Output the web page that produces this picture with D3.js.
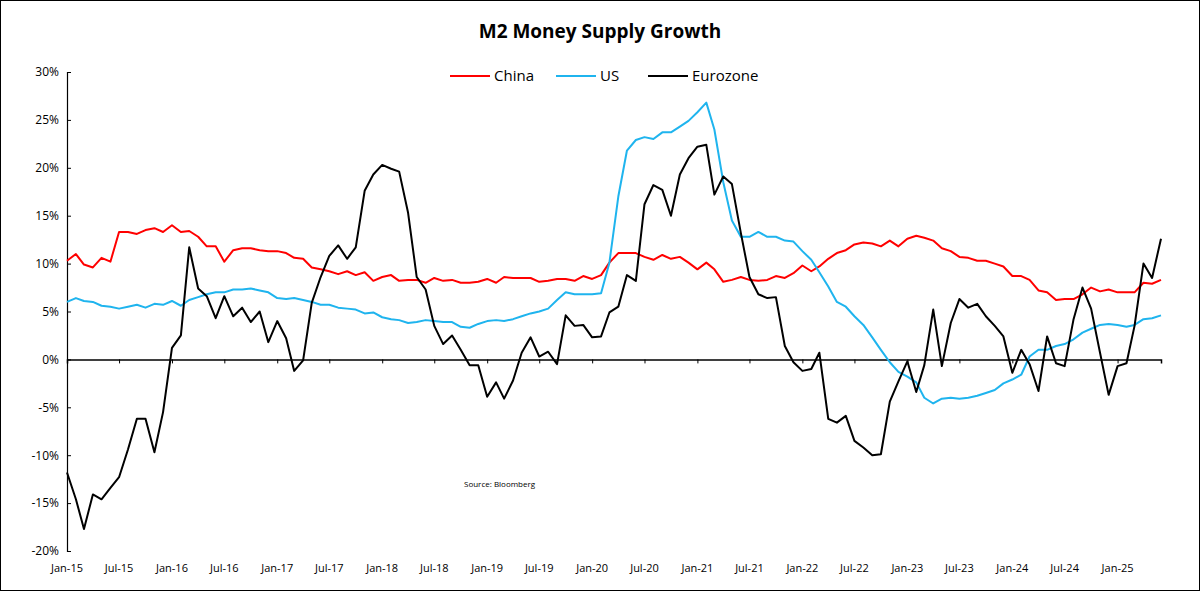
<!DOCTYPE html>
<html>
<head>
<meta charset="utf-8">
<script src="https://cdn.jsdelivr.net/npm/d3@7"></script>
<style>
  body { margin: 0; background: #fff; }
  text { font-family: "Open Sans", "Liberation Sans", sans-serif; }
</style>
</head>
<body>
<div id="chart"></div>
<script>
// ------ Data ---------------//
var startYear = 2015;
var china = [
  10.3, 11.0, 9.9, 9.6, 10.6, 10.2, 13.3, 13.3, 13.1, 13.5, 13.7, 13.3,
  14.0, 13.3, 13.4, 12.8, 11.8, 11.8, 10.2, 11.4, 11.6, 11.6, 11.4, 11.3,
  11.3, 11.1, 10.6, 10.5, 9.6, 9.4, 9.2, 8.9, 9.2, 8.8, 9.1, 8.2,
  8.6, 8.8, 8.2, 8.3, 8.3, 8.0, 8.5, 8.2, 8.3, 8.0, 8.0, 8.1,
  8.4, 8.0, 8.6, 8.5, 8.5, 8.5, 8.1, 8.2, 8.4, 8.4, 8.2, 8.7,
  8.4, 8.8, 10.1, 11.1, 11.1, 11.1, 10.7, 10.4, 10.9, 10.5, 10.7, 10.1,
  9.4, 10.1, 9.4, 8.1, 8.3, 8.6, 8.3, 8.2, 8.3, 8.7, 8.5, 9.0,
  9.8, 9.2, 9.7, 10.5, 11.1, 11.4, 12.0, 12.2, 12.1, 11.8, 12.4, 11.8,
  12.6, 12.9, 12.7, 12.4, 11.6, 11.3, 10.7, 10.6, 10.3, 10.3, 10.0, 9.7,
  8.7, 8.7, 8.3, 7.2, 7.0, 6.2, 6.3, 6.3, 6.8, 7.5, 7.1, 7.3,
  7.0, 7.0, 7.0, 8.0, 7.9, 8.3
];
var us = [
  6.0, 6.4, 6.1, 6.0, 5.6, 5.5, 5.3, 5.5, 5.7, 5.4, 5.8, 5.7,
  6.1, 5.6, 6.2, 6.5, 6.8, 7.0, 7.0, 7.3, 7.3, 7.4, 7.2, 7.0,
  6.4, 6.3, 6.4, 6.2, 6.0, 5.7, 5.7, 5.4, 5.3, 5.2, 4.8, 4.9,
  4.4, 4.2, 4.1, 3.8, 3.9, 4.1, 4.0, 3.9, 3.9, 3.4, 3.3, 3.7,
  4.0, 4.1, 4.0, 4.2, 4.5, 4.8, 5.0, 5.3, 6.2, 7.0, 6.8, 6.8,
  6.8, 6.9, 10.1, 17.0, 21.8, 22.9, 23.2, 23.0, 23.7, 23.7, 24.3, 24.9,
  25.8, 26.8, 24.0, 18.5, 14.5, 12.8, 12.8, 13.3, 12.8, 12.8, 12.4, 12.3,
  11.3, 10.4, 9.1, 7.6, 6.0, 5.5, 4.5, 3.6, 2.3, 1.0, -0.3, -1.3,
  -1.8, -2.4, -4.0, -4.6, -4.1, -4.0, -4.1, -4.0, -3.8, -3.5, -3.2, -2.5,
  -2.1, -1.6, 0.3, 1.0, 1.0, 1.4, 1.6, 2.1, 2.8, 3.2, 3.6, 3.7,
  3.6, 3.4, 3.6, 4.2, 4.3, 4.6
];
var eurozone = [
  -11.8, -14.6, -17.7, -14.1, -14.6, -13.4, -12.3, -9.4, -6.2, -6.2, -9.7, -5.5,
  1.2, 2.5, 11.7, 7.4, 6.6, 4.3, 6.6, 4.5, 5.4, 3.9, 5.0, 1.8,
  4.0, 2.2, -1.2, -0.1, 5.9, 8.6, 10.8, 11.9, 10.5, 11.7, 17.6, 19.3,
  20.3, 19.9, 19.6, 15.3, 8.6, 7.3, 3.5, 1.6, 2.5, 1.0, -0.6, -0.6,
  -3.9, -2.4, -4.1, -2.2, 0.7, 2.3, 0.3, 0.8, -0.5, 4.6, 3.5, 3.6,
  2.3, 2.4, 4.9, 5.5, 8.8, 8.2, 16.2, 18.2, 17.7, 15.0, 19.3, 21.0,
  22.2, 22.4, 17.2, 19.1, 18.3, 13.2, 8.6, 6.8, 6.4, 6.5, 1.4, -0.3,
  -1.2, -1.0, 0.7, -6.2, -6.6, -5.9, -8.5, -9.2, -10.0, -9.9, -4.4, -2.3,
  -0.2, -3.4, -0.6, 5.2, -0.7, 3.8, 6.3, 5.4, 5.8, 4.5, 3.5, 2.4,
  -1.4, 1.0, -0.5, -3.3, 2.4, -0.4, -0.7, 4.2, 7.5, 5.3, 0.7, -3.7,
  -0.7, -0.4, 3.5, 10.0, 8.5, 12.6
];
var seriesNames = ["China", "US", "Eurozone"];
var seriesColors = ["#ff0000", "#1fb4ee", "#000000"];
var yTicks = [30, 25, 20, 15, 10, 5, 0, -5, -10, -15, -20];

// ------ Setup ---------------//
var width = 1200, height = 591;
var margin = { top: 72, right: 39, bottom: 40, left: 67 };

var svg = d3.select("#chart").append("svg")
  .attr("width", width).attr("height", height);

svg.append("rect")
  .attr("x", 0.5).attr("y", 0.5)
  .attr("width", width - 1).attr("height", height - 1)
  .attr("fill", "#fff").attr("stroke", "#000");

var dates = china.map(function(d, i) { return new Date(startYear, i, 1); });

var x = d3.scaleTime()
  .domain([dates[0], dates[dates.length - 1]])
  .range([margin.left, width - margin.right]);

var y = d3.scaleLinear()
  .domain([-20, 30])
  .range([height - margin.bottom, margin.top]);

// ------ Title ---------------//
svg.append("text")
  .attr("x", 600).attr("y", 38)
  .attr("text-anchor", "middle")
  .attr("font-size", 19).attr("font-weight", "bold")
  .text("M2 Money Supply Growth");

// ------ Y axis ---------------//
var yAxis = svg.append("g")
  .attr("transform", `translate(${margin.left},0)`)
  .call(d3.axisRight(y).tickValues(yTicks).tickSize(4).tickFormat(function(d) { return d + "%"; }));
yAxis.select(".domain").attr("stroke", "#000").attr("stroke-width", 1.2);
yAxis.selectAll("text")
  .attr("x", -8).attr("text-anchor", "end")
  .attr("font-size", 12).attr("fill", "#000");

// ------ X axis at zero ---------------//
var xTicks = dates.filter(function(d) { return d.getMonth() % 6 === 0; });
var fmt = d3.timeFormat("%b-%y");

var xAxis = svg.append("g")
  .attr("transform", `translate(0,${y(0)})`)
  .call(d3.axisBottom(x).tickValues(xTicks).tickSize(4).tickFormat(""));
xAxis.select(".domain").attr("stroke", "#000").attr("stroke-width", 1.5);

svg.append("g").selectAll("text")
  .data(xTicks).join("text")
  .attr("x", function(d) { return x(d); })
  .attr("y", height - 19)
  .attr("text-anchor", "middle")
  .attr("font-size", 11)
  .text(function(d) { return fmt(d); });

// ------ Lines ---------------//
var line = d3.line()
  .x(function(d, i) { return x(dates[i]); })
  .y(function(d) { return y(d); });

[china, us, eurozone].forEach(function(s, k) {
  svg.append("path")
    .datum(s)
    .attr("d", line)
    .attr("fill", "none")
    .attr("stroke", seriesColors[k])
    .attr("stroke-width", 2)
    .attr("stroke-linejoin", "round");
});

// ------ Legend ---------------//
var legendX = [450, 556, 648];
var legend = svg.append("g").selectAll("g")
  .data(seriesNames).join("g")
  .attr("transform", function(d, i) { return `translate(${legendX[i]},76)`; });
legend.append("line")
  .attr("x1", 0).attr("x2", 40)
  .attr("stroke", function(d, i) { return seriesColors[i]; })
  .attr("stroke-width", 2);
legend.append("text")
  .attr("x", 44).attr("dy", "0.35em")
  .attr("font-size", 15)
  .text(function(d) { return d; });

// ------ Source ---------------//
svg.append("text")
  .attr("x", 464).attr("y", 487)
  .attr("font-size", 8)
  .text("Source:  Bloomberg");
</script>
</body>
</html>
